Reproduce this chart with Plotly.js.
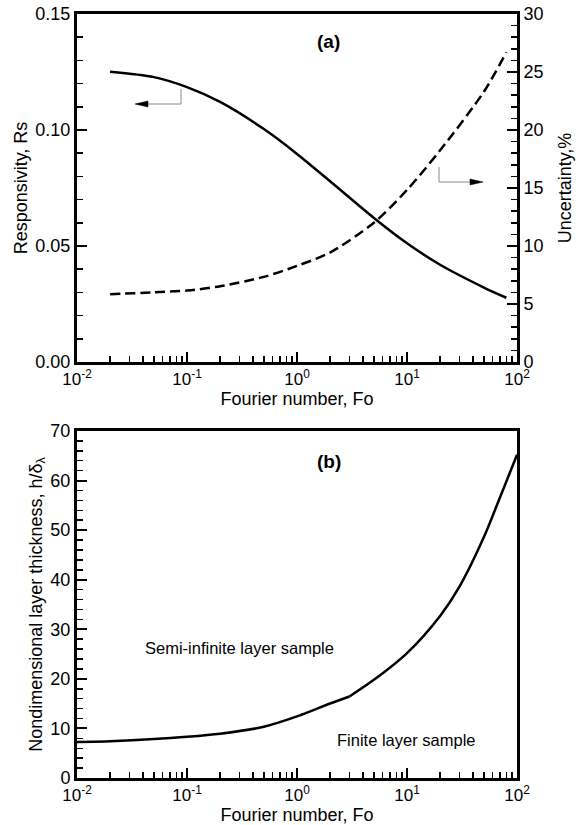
<!DOCTYPE html>
<html>
<head>
<meta charset="utf-8">
<script src="https://cdn.plot.ly/plotly-3.0.1.min.js"></script>
<style>html,body{margin:0;padding:0;background:#fff;}#chart{width:581px;height:825px;}</style>
</head>
<body>
<div id="chart"></div>
<script>
// ---- Data ----
var foA = [0.02, 0.05, 0.1, 0.2, 0.5, 1, 2, 5, 10, 20, 50, 80];
var responsivity = [0.1251, 0.1228, 0.1185, 0.1121, 0.1004, 0.0897, 0.0779, 0.0621, 0.0512, 0.0419, 0.0321, 0.0277];
var uncertainty = [5.84, 6.01, 6.16, 6.53, 7.34, 8.29, 9.44, 12.01, 14.83, 18.25, 23.3, 26.7];

var foB = [0.01, 0.02, 0.05, 0.1, 0.2, 0.5, 1, 2, 3, 5, 10, 20, 30, 50, 70, 100];
var thickness = [7.26, 7.40, 7.88, 8.32, 8.93, 10.34, 12.42, 15.02, 16.45, 19.8, 25.2, 32.7, 38.6, 48.6, 56.6, 65.2];
var kinkIndex = 8; // the curve shows a visible kink at Fo = 3

var xTickVals = [0.01, 0.1, 1, 10, 100];
var xTickText = ['10<sup>-2</sup>', '10<sup>-1</sup>', '10<sup>0</sup>', '10<sup>1</sup>', '10<sup>2</sup>'];

// ---- Layout helpers (pixel -> paper) ----
var W = 581, H = 825, L = 77, R = 64, T = 14, B = 47;
var PW = W - L - R, PH = H - T - B;
function px(x) { return (x - L) / PW; }
function py(y) { return (H - B - y) / PH; }

var FONT = 'Liberation Sans, Arial, Helvetica, sans-serif';

var traces = [
  {x: foA, y: responsivity, type: 'scatter', mode: 'lines', xaxis: 'x', yaxis: 'y',
   line: {color: '#000', width: 2.5, shape: 'spline', smoothing: 0.8}, showlegend: false, hoverinfo: 'skip'},
  {x: foA, y: uncertainty, type: 'scatter', mode: 'lines', xaxis: 'x', yaxis: 'y2',
   line: {color: '#000', width: 2.5, dash: '10px,5px', shape: 'spline', smoothing: 0.8}, showlegend: false, hoverinfo: 'skip'},
  {x: foB.slice(0, kinkIndex + 1), y: thickness.slice(0, kinkIndex + 1), type: 'scatter', mode: 'lines', xaxis: 'x2', yaxis: 'y3',
   line: {color: '#000', width: 2.5, shape: 'spline', smoothing: 0.6}, showlegend: false, hoverinfo: 'skip'},
  {x: foB.slice(kinkIndex), y: thickness.slice(kinkIndex), type: 'scatter', mode: 'lines', xaxis: 'x2', yaxis: 'y3',
   line: {color: '#000', width: 2.5, shape: 'spline', smoothing: 0.8}, showlegend: false, hoverinfo: 'skip'}
];

var yTickFont = {family: FONT, size: 18, color: '#000'};
var xTickFont = {family: FONT, size: 17, color: '#000'};
var titleFont = {family: FONT, size: 18, color: '#000'};

function xAxis(anchor) {
  return {
    type: 'log', range: [-2, 2], anchor: anchor,
    tickvals: xTickVals, ticktext: xTickText,
    ticks: 'inside', ticklen: 10, tickwidth: 2, tickcolor: '#000',
    minor: {ticks: 'inside', ticklen: 6, tickwidth: 1.5, tickcolor: '#000', dtick: 'D1', showgrid: false},
    showline: true, linecolor: '#000', linewidth: 3, mirror: true,
    showgrid: false, zeroline: false, tickfont: xTickFont,
    title: {text: 'Fourier number, Fo', font: titleFont, standoff: 2}
  };
}

var layout = {
  width: W, height: H,
  margin: {l: L, r: R, t: T, b: B},
  paper_bgcolor: '#fff', plot_bgcolor: '#fff',
  showlegend: false,
  font: {family: FONT, color: '#000'},
  xaxis: Object.assign(xAxis('y'), {domain: [0, 1]}),
  yaxis: {
    domain: [py(362), 1], range: [0, 0.15], anchor: 'x',
    tickvals: [0, 0.05, 0.1, 0.15], tickformat: '.2f',
    ticks: 'inside', ticklen: 10, tickwidth: 2, tickcolor: '#000',
    minor: {ticks: 'inside', ticklen: 6, tickwidth: 1.5, tickcolor: '#000', dtick: 0.01, showgrid: false},
    showline: true, linecolor: '#000', linewidth: 3,
    showgrid: false, zeroline: false, tickfont: yTickFont,
    title: {text: 'Responsivity, Rs', font: titleFont, standoff: 4}
  },
  yaxis2: {
    domain: [py(362), 1], range: [0, 30], anchor: 'x', overlaying: 'y', side: 'right',
    tickvals: [0, 5, 10, 15, 20, 25, 30],
    ticks: 'inside', ticklen: 10, tickwidth: 2, tickcolor: '#000',
    minor: {ticks: 'inside', ticklen: 6, tickwidth: 1.5, tickcolor: '#000', dtick: 1, showgrid: false},
    showline: true, linecolor: '#000', linewidth: 3,
    showgrid: false, zeroline: false, tickfont: yTickFont,
    title: {text: 'Uncertainty,%', font: titleFont, standoff: 16}
  },
  xaxis2: Object.assign(xAxis('y3'), {domain: [0, 1]}),
  yaxis3: {
    domain: [0, py(431)], range: [0, 70], anchor: 'x2',
    tickvals: [0, 10, 20, 30, 40, 50, 60, 70],
    ticks: 'inside', ticklen: 10, tickwidth: 2, tickcolor: '#000',
    minor: {ticks: 'inside', ticklen: 6, tickwidth: 1.5, tickcolor: '#000', dtick: 2, showgrid: false},
    showline: true, linecolor: '#000', linewidth: 3, mirror: true,
    showgrid: false, zeroline: false, tickfont: yTickFont,
    title: {text: 'Nondimensional layer thickness, h/δ<sub>λ</sub>', font: titleFont, standoff: 4}
  },
  annotations: [
    {text: '<b>(a)</b>', xref: 'paper', yref: 'paper', x: px(328), y: py(42), xanchor: 'center', yanchor: 'middle',
     showarrow: false, font: {family: FONT, size: 19, color: '#000'}},
    {text: '<b>(b)</b>', xref: 'paper', yref: 'paper', x: px(329), y: py(461), xanchor: 'center', yanchor: 'middle',
     showarrow: false, font: {family: FONT, size: 19, color: '#000'}},
    {text: 'Semi-infinite layer sample', xref: 'paper', yref: 'paper', x: px(143), y: py(648),
     xanchor: 'left', yanchor: 'middle', showarrow: false, font: {family: FONT, size: 16.5, color: '#000'}},
    {text: 'Finite layer sample', xref: 'paper', yref: 'paper', x: px(335), y: py(740),
     xanchor: 'left', yanchor: 'middle', showarrow: false, font: {family: FONT, size: 16.5, color: '#000'}}
  ],
  shapes: [
    // left-pointing indicator (responsivity -> left axis)
    {type: 'path', xref: 'paper', yref: 'paper',
     path: 'M' + px(181) + ',' + py(89) + ' L' + px(181) + ',' + py(104) + ' L' + px(146) + ',' + py(104),
     line: {color: '#888', width: 1}},
    {type: 'path', xref: 'paper', yref: 'paper',
     path: 'M' + px(135) + ',' + py(104) + ' L' + px(148) + ',' + py(101) + ' L' + px(148) + ',' + py(107) + ' Z',
     fillcolor: '#000', line: {color: '#000', width: 0.5}},
    // right-pointing indicator (uncertainty -> right axis)
    {type: 'path', xref: 'paper', yref: 'paper',
     path: 'M' + px(439) + ',' + py(167) + ' L' + px(439) + ',' + py(182) + ' L' + px(472) + ',' + py(182),
     line: {color: '#888', width: 1}},
    {type: 'path', xref: 'paper', yref: 'paper',
     path: 'M' + px(483) + ',' + py(182) + ' L' + px(470) + ',' + py(179) + ' L' + px(470) + ',' + py(185) + ' Z',
     fillcolor: '#000', line: {color: '#000', width: 0.5}}
  ]
};

Plotly.newPlot('chart', traces, layout, {staticPlot: true, displayModeBar: false});
</script>
</body>
</html>
